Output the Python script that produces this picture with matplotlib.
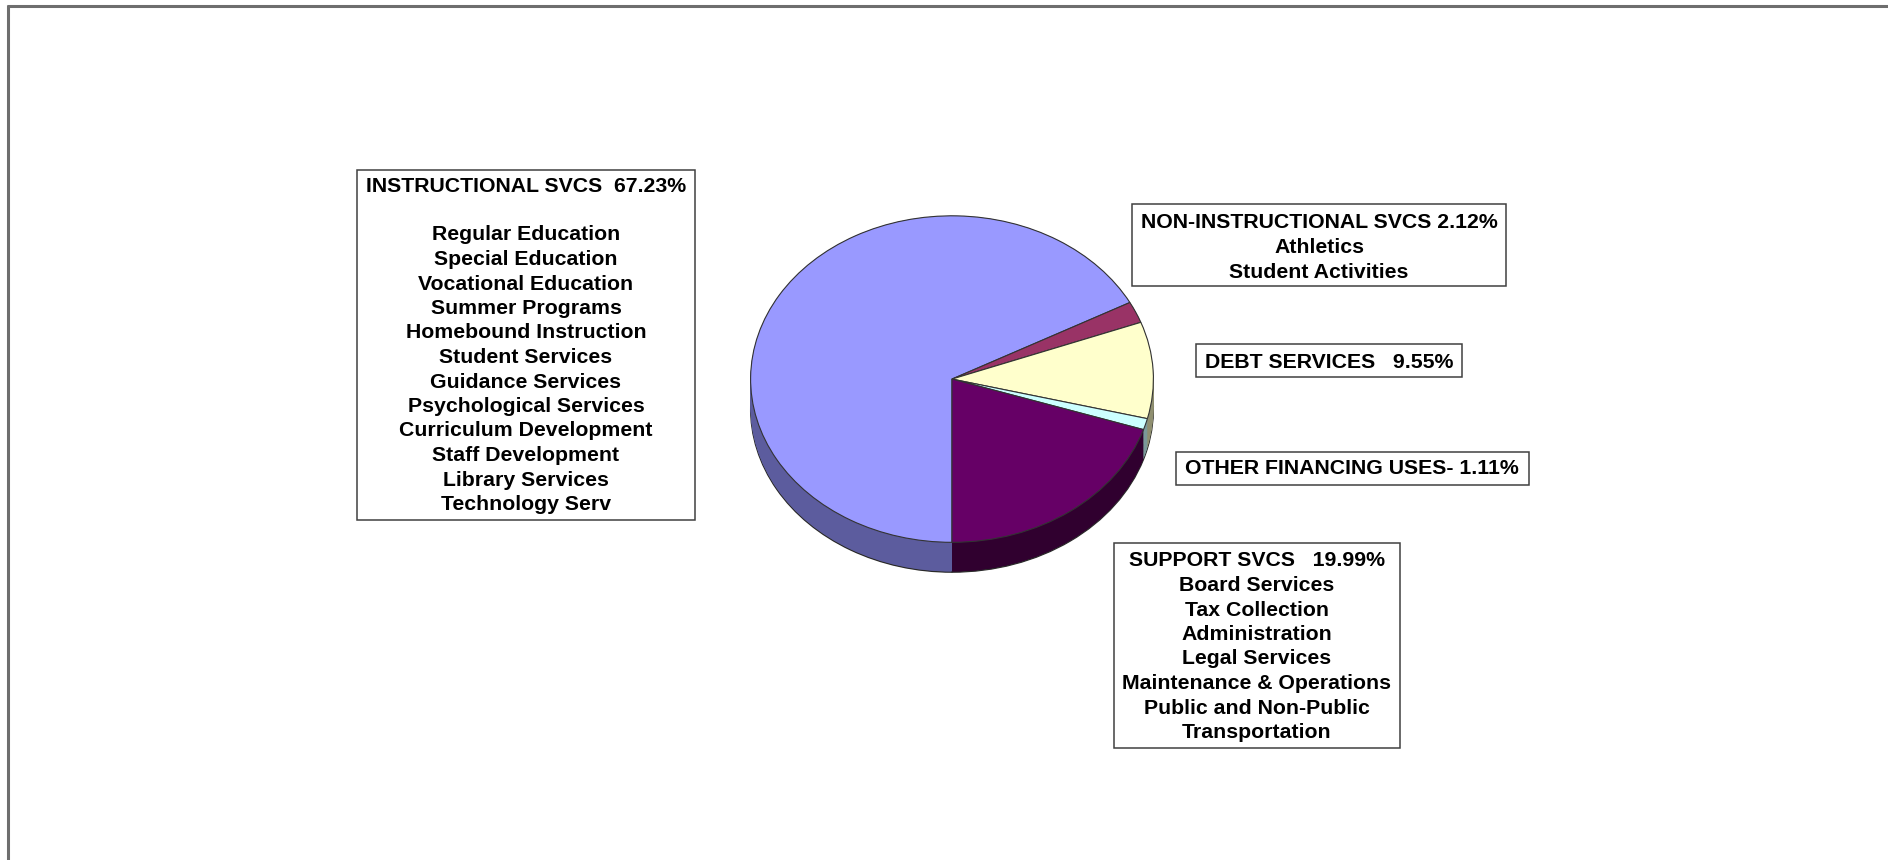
import numpy as np
import matplotlib
matplotlib.use("Agg")
import matplotlib.pyplot as plt
from matplotlib.patches import Rectangle

# ---- data ----
categories = ["INSTRUCTIONAL SVCS", "NON-INSTRUCTIONAL SVCS", "DEBT SERVICES",
              "OTHER FINANCING USES", "SUPPORT SVCS"]
percentages = [67.23, 2.12, 9.55, 1.11, 19.99]
top_colors = ["#9999FF", "#993366", "#FFFFCC", "#CCFFFF", "#660066"]
side_colors = ["#5c5c9e", "#5c1f3d", "#8f8f70", "#7a9999", "#30002f"]

instr_items = ["Regular Education", "Special Education", "Vocational Education",
               "Summer Programs", "Homebound Instruction", "Student Services",
               "Guidance Services", "Psychological Services", "Curriculum Development",
               "Staff Development", "Library Services", "Technology Serv"]
noninstr_items = ["Athletics", "Student Activities"]
support_items = ["Board Services", "Tax Collection", "Administration", "Legal Services",
                 "Maintenance & Operations", "Public and Non-Public", "Transportation"]

W, H = 1888, 860
fig = plt.figure(figsize=(W / 100, H / 100), dpi=100)
fig.patch.set_facecolor("white")

# background axes in pixel coordinates
bg = fig.add_axes([0, 0, 1, 1])
bg.set_xlim(0, W)
bg.set_ylim(H, 0)
bg.axis("off")
bg.plot([7, W], [6, 6], color="#6e6e6e", lw=2.2, solid_capstyle="butt")
bg.plot([8, 8], [5, H], color="#6e6e6e", lw=2.2, solid_capstyle="butt")

# ---- pseudo-3D pie ----
cx, cy, rx, ry, depth = 952, 379, 202, 164, 30
dd = depth / ry
pax = fig.add_axes([(cx - rx) / W, (H - (cy + ry + depth)) / H,
                    2 * rx / W, (2 * ry + depth) / H])
start = 270
n_layers = 36
for i, k in enumerate(np.linspace(dd, 0.0, n_layers)):
    if i == 0:
        wp = dict(linewidth=0.9, edgecolor="#2a2a2a")
    else:
        wp = dict(linewidth=0)
    pax.pie(percentages, center=(0, -k), radius=1, colors=side_colors,
            startangle=start, counterclock=False, wedgeprops=wp)
pax.pie(percentages, center=(0, 0), radius=1, colors=top_colors,
        startangle=start, counterclock=False,
        wedgeprops=dict(linewidth=0.8, edgecolor="#333333"))
pax.set_aspect("auto")
pax.set_xlim(-1.003, 1.003)
pax.set_ylim(-1 - dd - 0.005, 1.005)
pax.axis("off")

# ---- label boxes ----
font = dict(family=["Liberation Sans", "DejaVu Sans"], weight="bold", size=15.3,
            color="black")
LS = 24.5


def box(x0, y0, x1, y1):
    bg.add_patch(Rectangle((x0, y0), x1 - x0, y1 - y0, fill=False,
                           edgecolor="#404040", lw=1.1))


def lines(xc, y_first, texts):
    for i, t in enumerate(texts):
        bg.text(xc, y_first + i * LS, t, ha="center", va="center", **font)


# Instructional
box(357, 170, 695, 520)
lines(526, 186, [f"{categories[0]}  {percentages[0]:.2f}%", ""] + instr_items)

# Non-instructional
box(1132, 204, 1506, 286)
lines(1319, 223, [f"{categories[1]} {percentages[1]:.2f}%"] + noninstr_items)

# Debt
box(1196, 344, 1462, 377)
lines(1329, 362, [f"{categories[2]}   {percentages[2]:.2f}%"])

# Other financing
box(1176, 452, 1529, 485)
lines(1352, 469, [f"{categories[3]}- {percentages[3]:.2f}%"])

# Support
box(1114, 543, 1400, 748)
lines(1257, 561, [f"{categories[4]}   {percentages[4]:.2f}%"] + support_items)

fig.savefig("out.png", dpi=100, facecolor="white")
